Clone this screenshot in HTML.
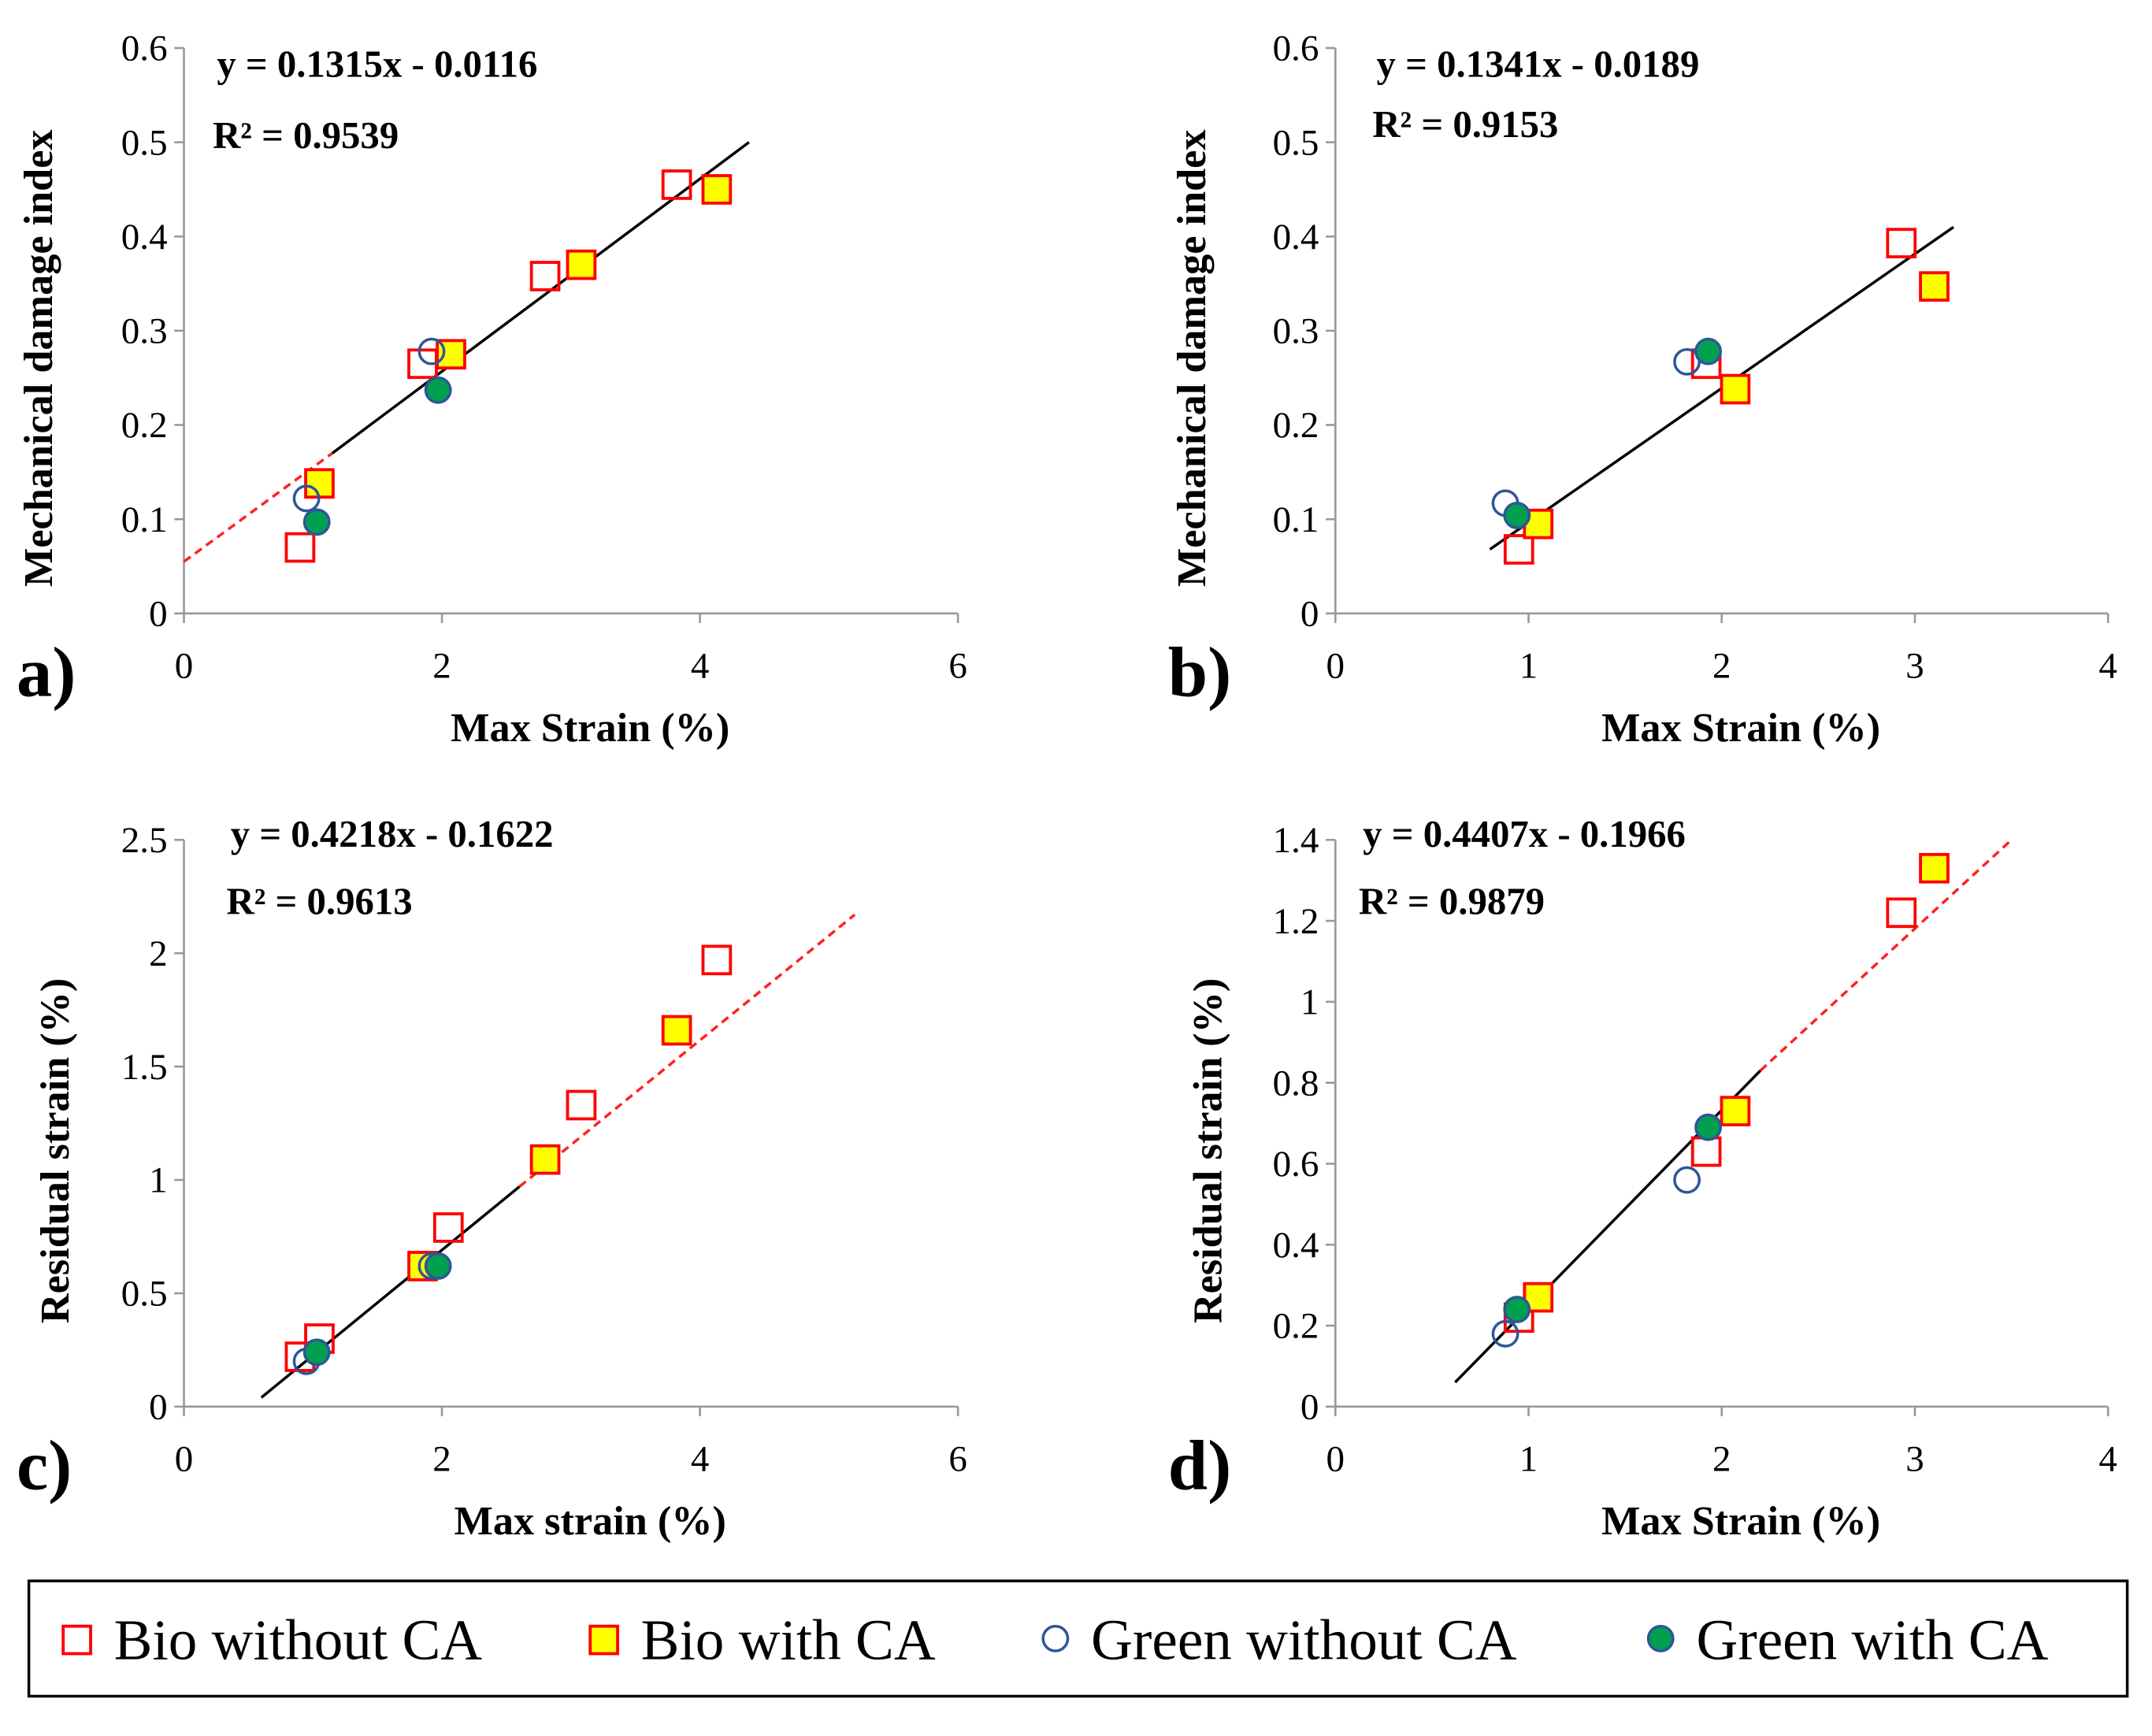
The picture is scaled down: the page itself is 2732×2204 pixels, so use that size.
<!DOCTYPE html>
<html><head><meta charset="utf-8"><style>
html,body{margin:0;padding:0;background:#fff}
svg{display:block}
svg text{font-family:"Liberation Serif","DejaVu Serif",serif !important}
</style></head><body>
<svg id="fig" width="2732" height="2204" viewBox="0 0 1568 1265" font-family="Liberation Serif, serif"></svg>
<script>
// Panel data (x = max strain %, y = value)
const aBioNoX=[0.9,1.85,2.8,3.82], aBioNoY=[0.07,0.265,0.358,0.455];
const aBioCaX=[1.05,2.07,3.08,4.13], aBioCaY=[0.138,0.275,0.37,0.45];
const aGrNoX=[0.95,1.92], aGrNoY=[0.122,0.278];
const aGrCaX=[1.03,1.97], aGrCaY=[0.097,0.237];
const bBioNoX=[0.95,1.92,2.93], bBioNoY=[0.068,0.265,0.393];
const bBioCaX=[1.05,2.07,3.1], bBioCaY=[0.095,0.238,0.347];
const bGrNoX=[0.88,1.82], bGrNoY=[0.117,0.267];
const bGrCaX=[0.94,1.93], bGrCaY=[0.104,0.278];
const cBioNoX=[0.9,1.05,2.05,3.08,4.13], cBioNoY=[0.22,0.3,0.79,1.33,1.97];
const cBioCaX=[1.85,2.8,3.82], cBioCaY=[0.62,1.09,1.66];
const cGrNoX=[0.95,1.92], cGrNoY=[0.2,0.62];
const cGrCaX=[1.03,1.97], cGrCaY=[0.24,0.62];
const dBioNoX=[0.95,1.92,2.93], dBioNoY=[0.22,0.63,1.22];
const dBioCaX=[1.05,2.07,3.1], dBioCaY=[0.27,0.73,1.33];
const dGrNoX=[0.88,1.82], dGrNoY=[0.18,0.56];
const dGrCaX=[0.94,1.93], dGrCaY=[0.24,0.69];
const aYTicks=["0","0.1","0.2","0.3","0.4","0.5","0.6"];
const cYTicks=["0","0.5","1","1.5","2","2.5"];
const dYTicks=["0","0.2","0.4","0.6","0.8","1","1.2","1.4"];
const xTicks6=["0","2","4","6"], xTicks4=["0","1","2","3","4"];
// trend segments [x1,y1,x2,y2]
const aSolid=[1.15,0.17,4.38,0.5], aDash=[0,0.055,1.15,0.17];
const bSolid=[0.8,0.068,3.2,0.41];
const cSolid=[0.6,0.04,2.6,0.97], cDash=[2.6,0.97,5.2,2.17];
const dSolid=[0.62,0.06,2.2,0.83], dDash=[2.2,0.83,3.5,1.4];

const NS="http://www.w3.org/2000/svg", svg=document.getElementById('fig');
const FF="Liberation Serif, serif";
function mk(tag,attrs,parent,txt){const e=document.createElementNS(NS,tag);for(const k in attrs)e.setAttribute(k,attrs[k]);if(tag==='text')e.setAttribute('font-family',FF);if(txt!==undefined)e.textContent=txt;(parent||svg).appendChild(e);return e;}

function panel(o){
  const g=mk('g',{});
  
  
  const sx=v=>o.x0+(v-0)/(o.xmax)*(o.x1-o.x0);
  const sy=v=>o.y0-(v/o.ymax)*(o.y0-o.y1);
  const ax=mk('line',{x1:o.x0,y1:o.y0,x2:o.x1,y2:o.y0,stroke:'#999','stroke-width':1.5},g);
  
  const ay=mk('line',{x1:o.x0,y1:o.y0,x2:o.x0,y2:o.y1,stroke:'#999','stroke-width':1.5},g);
  
  o.yt.forEach((t,i)=>{const v=o.ymax*i/(o.yt.length-1),y=sy(v);
    mk('line',{x1:o.x0-7,y1:y,x2:o.x0,y2:y,stroke:'#999','stroke-width':1.5},g);
    const tx=mk('text',{x:o.x0-12,y:y+9,'text-anchor':'end','font-size':27},g,t);
    });
  o.xt.forEach((t,i)=>{const v=o.xmax*i/(o.xt.length-1),x=sx(v);
    mk('line',{x1:x,y1:o.y0,x2:x,y2:o.y0+7,stroke:'#999','stroke-width':1.5},g);
    const tx=mk('text',{x:x,y:o.y0+47,'text-anchor':'middle','font-size':27},g,t);
    });
  const xt=mk('text',{x:(o.x0+o.x1)/2+14,y:o.y0+93,'text-anchor':'middle','font-size':30,'font-weight':'bold'},g,o.xl);
  
  const cy=(o.y0+o.y1)/2+20;
  const yt=mk('text',{x:o.ylx,y:cy,'text-anchor':'middle','font-size':30,'font-weight':'bold',transform:`rotate(-90 ${o.ylx} ${cy})`},g,o.yl);
  
  const pl=mk('text',{x:o.x0-122,y:o.y0+60,'font-size':52,'font-weight':'bold'},g,o.id+')');
  
  const e1=mk('text',{x:o.ex,y:o.ey1,'font-size':28,'font-weight':'bold'},g,o.eq);
  
  const e2=mk('text',{x:o.ex-3,y:o.ey2,'font-size':28,'font-weight':'bold'},g,o.r2);
  
  if(o.dash){const l=mk('line',{x1:sx(o.dash[0]),y1:sy(o.dash[1]),x2:sx(o.dash[2]),y2:sy(o.dash[3]),stroke:'#f22','stroke-width':2,'stroke-dasharray':'6,4'},g);
    }
  const ls=mk('line',{x1:sx(o.solid[0]),y1:sy(o.solid[1]),x2:sx(o.solid[2]),y2:sy(o.solid[3]),stroke:'#000','stroke-width':2},g);
  
  const sq=(X,Y,fill,name)=>X.forEach((v,i)=>{const r=mk('rect',{x:sx(v)-10,y:sy(Y[i])-10,width:20,height:20,fill:fill,stroke:'#f00','stroke-width':2.2},g);
    });
  const ci=(X,Y,fill,name)=>X.forEach((v,i)=>{const c=mk('circle',{cx:sx(v),cy:sy(Y[i]),r:9,fill:fill,stroke:'#2f5597','stroke-width':2},g);
    });
  sq(o.d[0],o.d[1],'none','bio-without-ca-point');
  sq(o.d[2],o.d[3],'#ff0','bio-with-ca-point');
  ci(o.d[4],o.d[5],'none','green-without-ca-point');
  ci(o.d[6],o.d[7],'#00a050','green-with-ca-point');
}
panel({id:'a',x0:134,x1:698,y0:447,y1:35,xmax:6,ymax:0.6,yt:aYTicks,xt:xTicks6,xl:'Max Strain (%)',yl:'Mechanical  damage index',ylx:38,
  eq:'y = 0.1315x - 0.0116',r2:'R² = 0.9539',ex:158,ey1:56,ey2:108,solid:aSolid,dash:aDash,
  d:[aBioNoX,aBioNoY,aBioCaX,aBioCaY,aGrNoX,aGrNoY,aGrCaX,aGrCaY]});
panel({id:'b',x0:973,x1:1536,y0:447,y1:35,xmax:4,ymax:0.6,yt:aYTicks,xt:xTicks4,xl:'Max Strain (%)',yl:'Mechanical  damage index',ylx:878,
  eq:'y = 0.1341x - 0.0189',r2:'R² = 0.9153',ex:1003,ey1:56,ey2:100,solid:bSolid,dash:null,
  d:[bBioNoX,bBioNoY,bBioCaX,bBioCaY,bGrNoX,bGrNoY,bGrCaX,bGrCaY]});
panel({id:'c',x0:134,x1:698,y0:1025,y1:612,xmax:6,ymax:2.5,yt:cYTicks,xt:xTicks6,xl:'Max strain (%)',yl:'Residual strain (%)',ylx:50,
  eq:'y = 0.4218x - 0.1622',r2:'R² = 0.9613',ex:168,ey1:617,ey2:666,solid:cSolid,dash:cDash,
  d:[cBioNoX,cBioNoY,cBioCaX,cBioCaY,cGrNoX,cGrNoY,cGrCaX,cGrCaY]});
panel({id:'d',x0:973,x1:1536,y0:1025,y1:612,xmax:4,ymax:1.4,yt:dYTicks,xt:xTicks4,xl:'Max Strain (%)',yl:'Residual strain (%)',ylx:890,
  eq:'y = 0.4407x - 0.1966',r2:'R² = 0.9879',ex:993,ey1:617,ey2:666,solid:dSolid,dash:dDash,
  d:[dBioNoX,dBioNoY,dBioCaX,dBioCaY,dGrNoX,dGrNoY,dGrCaX,dGrCaY]});

// Legend
const lg=mk('g',{});


mk('rect',{x:21,y:1152,width:1529,height:84,fill:'none',stroke:'#000','stroke-width':2},lg);
const legItems=[['sq','none','Bio without CA',46],['sq','#ff0','Bio with CA',430],['ci','none','Green without CA',758],['ci','#00a050','Green with CA',1199]];
legItems.forEach(it=>{
  const e=mk('g',{},lg);
  
  
  if(it[0]==='sq') mk('rect',{x:it[3],y:1185,width:20,height:20,fill:it[1],stroke:'#f00','stroke-width':2.2},e);
  else mk('circle',{cx:it[3]+11,cy:1194,r:9,fill:it[1],stroke:'#2f5597','stroke-width':2},e);
  mk('text',{x:it[3]+37,y:1209,'font-size':42},e,it[2]);
});
</script>
</body></html>
